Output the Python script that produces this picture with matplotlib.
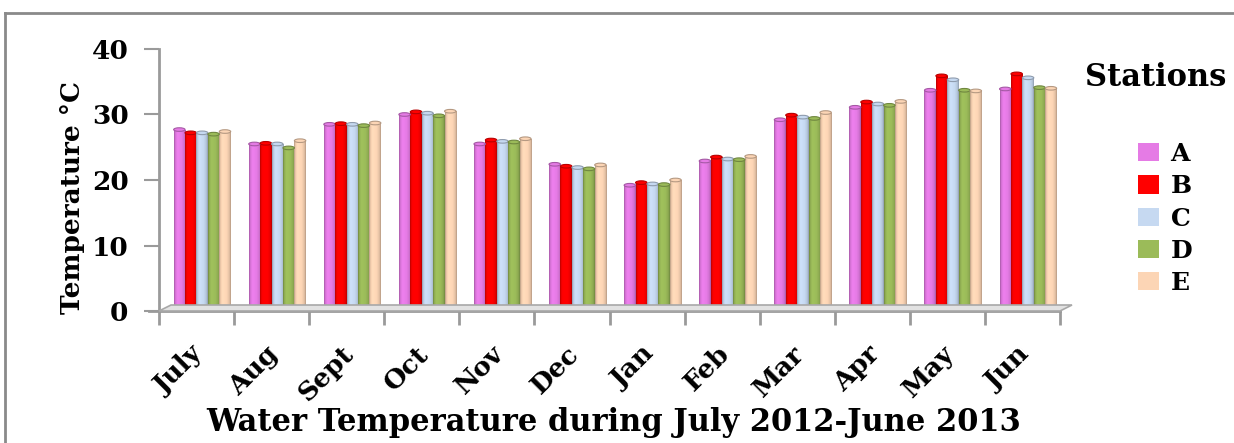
import numpy as np
import matplotlib
matplotlib.use("Agg")
import matplotlib.pyplot as plt
from matplotlib.patches import Ellipse, Polygon
from matplotlib.lines import Line2D
import matplotlib.transforms as mtransforms
from matplotlib.colors import to_rgb

# Monthly water temperature (°C) at five stations
months = ["July", "Aug", "Sept", "Oct", "Nov", "Dec", "Jan", "Feb", "Mar", "Apr", "May", "Jun"]
stations = ["A", "B", "C", "D", "E"]
station_a = [27.7, 25.5, 28.5, 30.0, 25.5, 22.4, 19.2, 22.9, 29.2, 31.1, 33.7, 33.9]
station_b = [27.2, 25.6, 28.6, 30.4, 26.1, 22.1, 19.6, 23.5, 29.9, 31.9, 35.9, 36.2]
station_c = [27.2, 25.5, 28.5, 30.2, 25.9, 21.9, 19.4, 23.2, 29.6, 31.6, 35.3, 35.6]
station_d = [27.0, 24.9, 28.3, 29.8, 25.8, 21.7, 19.3, 23.1, 29.4, 31.4, 33.7, 34.1]
station_e = [27.4, 26.0, 28.7, 30.5, 26.3, 22.3, 20.0, 23.6, 30.3, 32.0, 33.6, 34.0]
series = [station_a, station_b, station_c, station_d, station_e]
colors = ["#E57BE5", "#FF0000", "#C6D9F1", "#9BBB59", "#FCD5B5"]
yticks = [0, 10, 20, 30, 40]

W, H = 1234, 443
fig = plt.figure(figsize=(W / 100, H / 100), dpi=100)
fig.patch.set_facecolor("white")

ax = fig.add_axes([159 / W, 1 - 311 / H, (1060 - 159) / W, (311 - 49) / H])
ax.set_facecolor("none")

serif = "DejaVu Serif"
gray = "#9a9a9a"
n = len(months)
ax.set_xlim(0, n)
ax.set_ylim(0, 40)

# 3-D style floor slab behind the bars
back = ax.transData + mtransforms.ScaledTranslation(12 / 100, 6 / 100, fig.dpi_scale_trans)
p0 = ax.transData.transform((0, 0))
p1 = ax.transData.transform((n, 0))
b0 = back.transform((0, 0))
b1 = back.transform((n, 0))
floor = Polygon([p0, p1, b1, b0], closed=True, transform=None,
                facecolor="#e2e2e2", edgecolor="#a8a8a8", lw=1.2, zorder=1)
fig.patches.append(floor)


def shade(c):
    """Horizontal shading that gives each bar a rounded, cylinder-like look."""
    base = np.array(to_rgb(c))
    t = np.linspace(0, 1, 48)
    prof = np.interp(t, [0, 0.12, 0.3, 0.65, 0.88, 1.0],
                     [0.72, 0.95, 1.04, 1.0, 0.9, 0.72])
    img = np.clip(base[None, :] * prof[:, None], 0, 1)
    return img[None, :, :]


bw = 0.152
start = 0.195
for j, (vals, col) in enumerate(zip(series, colors)):
    xs = np.arange(n) + start + j * bw
    bars = ax.bar(xs, vals, width=bw, align="edge", color=col,
                  edgecolor="none", zorder=3, label=stations[j])
    grad = shade(col)
    edge = tuple(np.array(to_rgb(col)) * 0.72)
    for rect in bars:
        x0 = rect.get_x()
        h = rect.get_height()
        im = ax.imshow(grad, extent=(x0, x0 + bw, 0, h), aspect="auto",
                       interpolation="bilinear", zorder=3.5)
        im.set_clip_path(rect)
        cap = Ellipse((x0 + bw / 2, h), bw, 0.55, facecolor=col,
                      edgecolor=edge, lw=0.8, zorder=4)
        ax.add_patch(cap)

ax.set_xlim(0, n)
ax.set_ylim(0, 40)

for s in ["top", "right"]:
    ax.spines[s].set_visible(False)
ax.spines["left"].set_color(gray)
ax.spines["left"].set_linewidth(2)
ax.spines["bottom"].set_color(gray)
ax.spines["bottom"].set_linewidth(2)
ax.spines["bottom"].set_zorder(5)
ax.spines["bottom"].set_bounds(-10 / 75.1, n)

ax.set_yticks(yticks)
ax.set_yticklabels([str(v) for v in yticks], fontfamily=serif,
                   fontweight="bold", fontsize=19)
ax.tick_params(axis="y", length=11, width=1.5, color=gray, pad=11)

ax.set_xticks(np.arange(n + 1))
ax.set_xticklabels([])
ax.tick_params(axis="x", which="major", length=10, width=2, color=gray)
ax.set_xticks(np.arange(n) + 0.5, minor=True)
ax.set_xticklabels(months, minor=True, rotation=45, ha="right", va="center",
                   rotation_mode="anchor", fontfamily=serif,
                   fontweight="bold", fontsize=19)
ax.tick_params(axis="x", which="minor", length=0, pad=28)
shift = mtransforms.ScaledTranslation(3 / 100, 0, fig.dpi_scale_trans)
for lab in ax.get_xticklabels(minor=True):
    lab.set_transform(lab.get_transform() + shift)

ax.set_ylabel("Temperature °C", fontfamily=serif, fontweight="bold", fontsize=19)
ax.yaxis.set_label_coords(-(159 - 85) / (1060 - 159), (311 - 198) / (311 - 49))

fig.text(614 / W, 1 - 422 / H, "Water Temperature during July 2012-June 2013",
         ha="center", va="center", fontfamily=serif,
         fontweight="bold", fontsize=22)

# legend
fig.text(1085 / W, 1 - 77 / H, "Stations", ha="left", va="center",
         fontfamily=serif, fontweight="bold", fontsize=22)
handles = [plt.Rectangle((0, 0), 1, 1, facecolor=c, edgecolor="none") for c in colors]
leg = fig.legend(handles, stations, loc="upper left",
                 bbox_to_anchor=(1128 / W, 1 - 132 / H), frameon=False,
                 prop={"family": serif, "weight": "bold", "size": 18},
                 handlelength=0.85, handleheight=0.75, handletextpad=0.45,
                 labelspacing=0.33, borderaxespad=0)

# outer frame
fig.add_artist(Line2D([5 / W, 5 / W], [0, 1 - 13 / H], transform=fig.transFigure,
                      color="#8a8a8a", lw=2))
fig.add_artist(Line2D([5 / W, 1], [1 - 13 / H, 1 - 13 / H], transform=fig.transFigure,
                      color="#8a8a8a", lw=2))

fig.savefig("out.png", dpi=100)
